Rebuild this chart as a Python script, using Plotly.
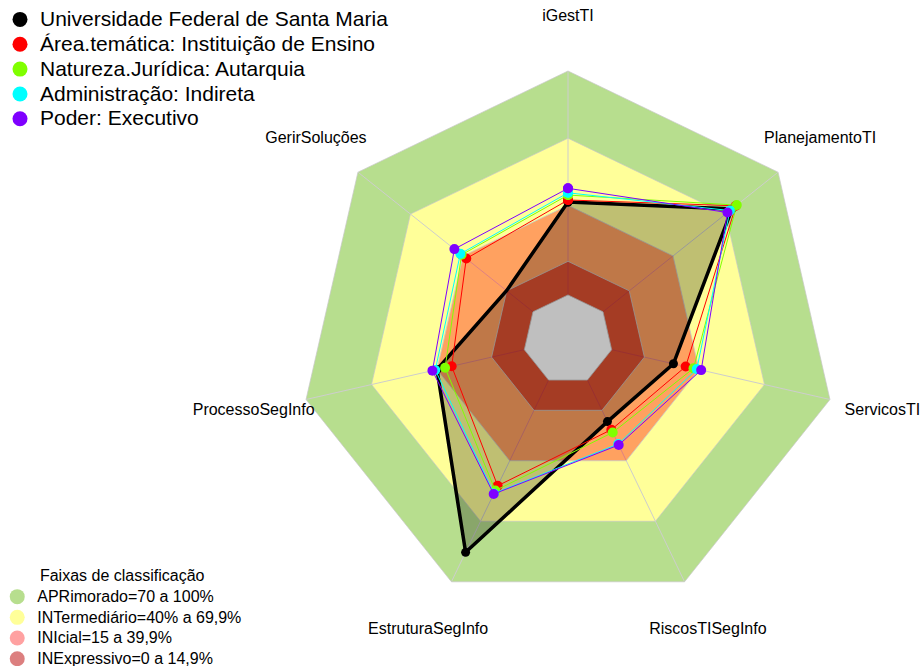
import plotly.graph_objects as go

# ---------------- data ----------------
categories = ["iGestTI", "PlanejamentoTI", "ServicosTI", "RiscosTISegInfo",
              "EstruturaSegInfo", "ProcessoSegInfo", "GerirSoluções"]

series_names = ["Universidade Federal de Santa Maria",
                "Área.temática: Instituição de Ensino",
                "Natureza.Jurídica: Autarquia",
                "Administração: Indireta",
                "Poder: Executivo"]
ufsm = [41.5, 73.7, 28.3, 20.6, 85.4, 40.0, 15.1]
area_tematica = [42.4, 75.9, 33.9, 24.6, 52.4, 33.3, 38.1]
natureza_juridica = [44.6, 76.4, 37.5, 26.0, 54.8, 36.3, 40.8]
administracao = [45.6, 72.5, 39.0, 31.7, 56.2, 40.8, 41.5]
poder = [47.6, 71.1, 41.0, 32.2, 56.5, 42.1, 44.9]
series_values = [ufsm, area_tematica, natureza_juridica, administracao, poder]
series_colors = ["#000000", "#FF0000", "#80FF00", "#00FFFF", "#7F00FF"]

band_names = ["APRimorado=70 a 100%", "INTermediário=40% a 69,9%",
              "INIcial=15 a 39,9%", "INExpressivo=0 a 14,9%"]
band_upper = [100, 70, 40, 15]
band_colors = ["#B7DE8E", "#FFFF99", "rgba(255,0,0,0.37)", "rgba(185,0,0,0.5)"]
center_value = 0
label_value = 124

FONT = "Liberation Sans, Arial, sans-serif"


def closed(vals):
    return list(vals) + [vals[0]], categories + [categories[0]]


fig = go.Figure()

# outer bands (opaque)
for i in range(2):
    r, th = closed([band_upper[i]] * len(categories))
    fig.add_trace(go.Scatterpolar(r=r, theta=th, mode="lines", fill="toself",
                                  fillcolor=band_colors[i],
                                  line=dict(color="rgba(200,200,200,0.7)", width=1),
                                  showlegend=False, hoverinfo="skip"))

# spokes
sr, st = [], []
for c in categories:
    sr += [center_value, band_upper[0], None]
    st += [c, c, c]
fig.add_trace(go.Scatterpolar(r=sr, theta=st, mode="lines",
                              line=dict(color="rgba(205,205,205,1)", width=1),
                              showlegend=False, hoverinfo="skip"))

# inner translucent bands
for i in range(2, 4):
    r, th = closed([band_upper[i]] * len(categories))
    fig.add_trace(go.Scatterpolar(r=r, theta=th, mode="lines", fill="toself",
                                  fillcolor=band_colors[i],
                                  line=dict(color="rgba(200,200,200,0.8)", width=1),
                                  showlegend=False, hoverinfo="skip"))

# white centre
r, th = closed([center_value] * len(categories))
fig.add_trace(go.Scatterpolar(r=r, theta=th, mode="lines", fill="toself",
                              fillcolor="#FFFFFF",
                              line=dict(color="rgba(200,200,200,0.8)", width=1),
                              showlegend=False, hoverinfo="skip"))

# data series
for k, (name, vals, col) in enumerate(zip(series_names, series_values, series_colors)):
    r, th = closed(vals)
    if k == 0:
        fig.add_trace(go.Scatterpolar(r=r, theta=th, mode="lines+markers",
                                      fill="toself", fillcolor="rgba(0,0,0,0.25)",
                                      line=dict(color=col, width=3.5),
                                      marker=dict(size=9, color=col),
                                      showlegend=False, name=name))
    else:
        fig.add_trace(go.Scatterpolar(r=r, theta=th, mode="lines+markers",
                                      line=dict(color=col, width=1),
                                      marker=dict(size=10, color=col),
                                      showlegend=False, name=name))

# axis labels
fig.add_trace(go.Scatterpolar(r=[label_value] * len(categories), theta=categories,
                              mode="text", text=categories,
                              textfont=dict(family=FONT, size=16, color="#000000"),
                              textposition="middle center", cliponaxis=False,
                              showlegend=False, hoverinfo="skip"))

# legend entries: series
for name, col in zip(series_names, series_colors):
    fig.add_trace(go.Scatterpolar(r=[None], theta=[categories[0]], mode="markers",
                                  marker=dict(size=15, color=col),
                                  name='<span style="font-size:21px">' + name + '</span>',
                                  legend="legend", showlegend=True))

# legend entries: bands
for name, col in zip(band_names, band_colors):
    fig.add_trace(go.Scatterpolar(r=[None], theta=[categories[0]], mode="markers",
                                  marker=dict(size=15, color=col),
                                  name='<span style="font-size:16px">' + name + '</span>',
                                  legend="legend2", showlegend=True))

fig.update_layout(
    width=921, height=666,
    margin=dict(l=0, r=0, t=0, b=0, pad=0, autoexpand=False),
    paper_bgcolor="white",
    font=dict(family=FONT, color="#000000"),
    polar=dict(
        domain=dict(x=[0.26662, 0.96682], y=[0.0058, 0.97408]),
        bgcolor="rgba(0,0,0,0)",
        gridshape="linear",
        radialaxis=dict(range=[-20, label_value], visible=False, showgrid=False),
        angularaxis=dict(type="category", categoryarray=categories,
                         direction="clockwise", rotation=90,
                         showgrid=False, showline=False, showticklabels=False,
                         ticks=""),
    ),
    legend=dict(x=0, y=0.997, xanchor="left", yanchor="top",
                font=dict(family=FONT, size=16.8),
                bgcolor="rgba(0,0,0,0)", itemclick=False,
                tracegroupgap=0),
    legend2=dict(x=-0.003, y=-0.0128, xanchor="left", yanchor="bottom",
                 font=dict(family=FONT, size=13.6),
                 title=dict(text="Faixas de classificação",
                            font=dict(family=FONT, size=16), side="top center"),
                 bgcolor="rgba(0,0,0,0)", itemclick=False,
                 tracegroupgap=0),
    showlegend=True,
)

fig.write_html("out.html", config={"displayModeBar": False},
               post_script="document.body.style.margin='0';document.body.style.overflow='hidden';")
